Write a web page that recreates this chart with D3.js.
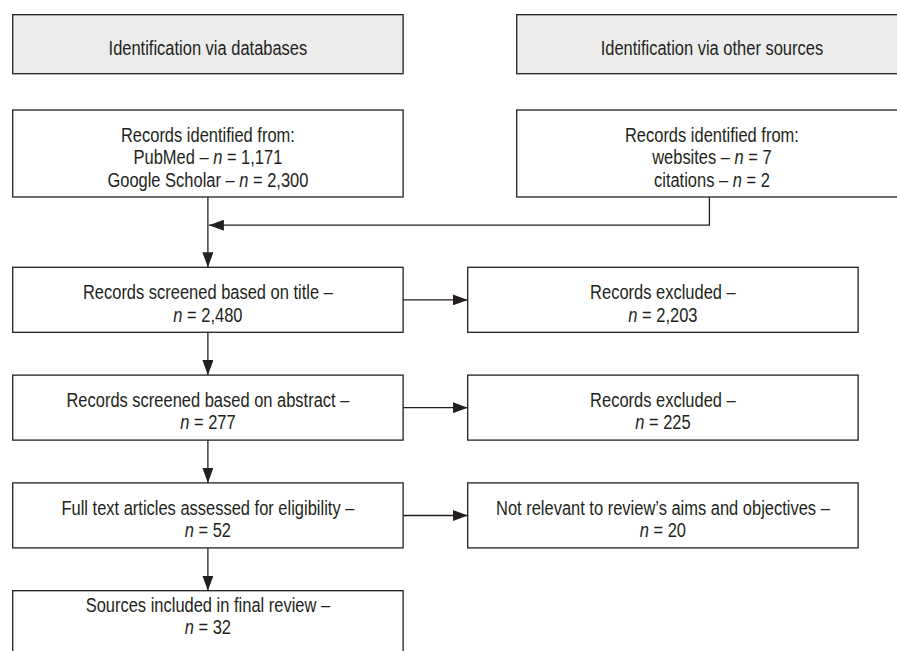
<!DOCTYPE html>
<html>
<head>
<meta charset="utf-8">
<script src="https://cdn.jsdelivr.net/npm/d3@7"></script>
<style>
  html, body { margin: 0; padding: 0; background: #fff; }
  svg { display: block; }
  text { font-family: "Liberation Sans", Arial, sans-serif; font-size: 21px; fill: #231f20; }
</style>
</head>
<body>
<div id="chart"></div>
<script>
// data
var headers = ['Identification via databases', 'Identification via other sources'];
var dbSources = ['PubMed', 'Google Scholar'];
var dbCounts = [1171, 2300];
var otherSources = ['websites', 'citations'];
var otherCounts = [7, 2];
var stages = [
  'Records screened based on title –',
  'Records screened based on abstract –',
  'Full text articles assessed for eligibility –',
  'Sources included in final review –'
];
var stageCounts = [2480, 277, 52, 32];
var exclusions = [
  'Records excluded –',
  'Records excluded –',
  'Not relevant to review’s aims and objectives –'
];
var exclusionCounts = [2203, 225, 20];

var W = 897, H = 651;
var fmt = d3.format(',');
var lineH = 22.5;
var boxW = 390.4;
var squeeze = 0.785;  // condensed look from a regular face

// column left edges, row tops
var colX = d3.scaleOrdinal().domain(['main', 'excl', 'other']).range([12.7, 467.7, 516.7]);
var stageY = d3.scaleLinear().domain([0, stages.length - 1]).range([267.3, 590.7]);

var svg = d3.select('#chart').append('svg')
  .attr('width', W)
  .attr('height', H);

svg.append('defs').append('marker')
  .attr('id', 'arrow')
  .attr('markerUnits', 'userSpaceOnUse')
  .attr('markerWidth', 15)
  .attr('markerHeight', 11)
  .attr('refX', 15)
  .attr('refY', 5.5)
  .attr('orient', 'auto')
  .append('path')
  .attr('d', 'M0,0 L15,5.5 L0,11 Z')
  .style('fill', '#231f20');

function nLine(prefix, v) {
  return [{ t: prefix }, { t: 'n', it: true }, { t: ' = ' + fmt(v) }];
}

// boxes
var boxes = [];
boxes.push({ x: colX('main'), y: 14.7, h: 59, fill: '#ececec', lines: [[{ t: headers[0] }]] });
boxes.push({ x: colX('other'), y: 14.7, h: 59, fill: '#ececec', lines: [[{ t: headers[1] }]] });
boxes.push({
  x: colX('main'), y: 110, h: 87, lines: [[{ t: 'Records identified from:' }]]
    .concat(dbSources.map(function (s, i) { return nLine(s + ' – ', dbCounts[i]); }))
});
boxes.push({
  x: colX('other'), y: 110, h: 87, lines: [[{ t: 'Records identified from:' }]]
    .concat(otherSources.map(function (s, i) { return nLine(s + ' – ', otherCounts[i]); }))
});
stages.forEach(function (s, i) {
  var last = i === stages.length - 1;
  boxes.push({
    x: colX('main'), y: stageY(i), h: last ? 80 : 65, textTop: last ? 21 : null,
    lines: [[{ t: s }], nLine('', stageCounts[i])]
  });
});
exclusions.forEach(function (s, i) {
  boxes.push({ x: colX('excl'), y: stageY(i), h: 65, lines: [[{ t: s }], nLine('', exclusionCounts[i])] });
});

var g = svg.selectAll('g.box')
  .data(boxes)
  .enter()
  .append('g')
  .attr('class', 'box');

g.append('rect')
  .attr('x', function (d) { return d.x; })
  .attr('y', function (d) { return d.y; })
  .attr('width', boxW)
  .attr('height', function (d) { return d.h; })
  .style('fill', function (d) { return d.fill || '#fff'; })
  .style('stroke', '#231f20')
  .style('stroke-width', 1.3);

g.each(function (d) {
  var cx = d.x + boxW / 2;
  var y0 = d.textTop != null ? d.y + d.textTop
    : d.y + (d.h - (d.lines.length - 1) * lineH) / 2 + 10.5;
  var sel = d3.select(this);
  d.lines.forEach(function (segs, i) {
    var t = sel.append('text')
      .attr('transform', 'translate(' + cx + ',' + (y0 + i * lineH) + ') scale(' + squeeze + ',1)')
      .attr('text-anchor', 'middle');
    segs.forEach(function (s) {
      t.append('tspan')
        .style('font-style', s.it ? 'italic' : null)
        .text(s.t);
    });
  });
});

// connectors
var midX = colX('main') + boxW / 2;
var rightMid = colX('other') + boxW / 2 - 2.5;
var links = [];
// other sources into main flow
links.push({ pts: [[rightMid, 197], [rightMid, 225.2], [midX + 1, 225.2]] });
// main vertical flow
links.push({ pts: [[midX, 197], [midX, stageY(0)]] });
for (var i = 1; i < stages.length; i++) {
  links.push({ pts: [[midX, stageY(i - 1) + 65], [midX, stageY(i)]] });
}
// exclusions
exclusions.forEach(function (s, i) {
  var y = stageY(i) + 32.6;
  links.push({ pts: [[colX('main') + boxW, y], [colX('excl'), y]] });
});

svg.selectAll('path.link')
  .data(links)
  .enter()
  .append('path')
  .attr('class', 'link')
  .attr('d', function (d) { return d3.line()(d.pts); })
  .style('fill', 'none')
  .style('stroke', '#231f20')
  .style('stroke-width', 1.3)
  .attr('marker-end', 'url(#arrow)');
</script>
</body>
</html>
